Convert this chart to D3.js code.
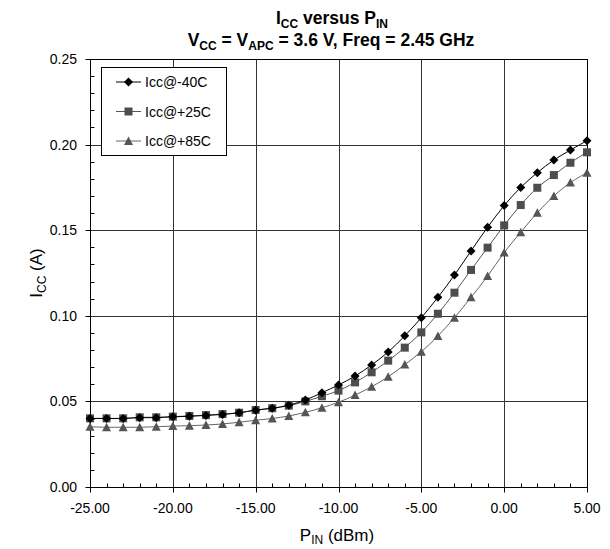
<!DOCTYPE html>
<html>
<head>
<meta charset="utf-8">
<script src="https://cdn.jsdelivr.net/npm/d3@7"></script>
<style>
  body { margin: 0; background: #fff; }
  text { font-family: "Liberation Sans", Arial, sans-serif; }
</style>
</head>
<body>
<div id="chart"></div>
<script>
// input power, dBm
const pin = d3.range(-25, 6, 1);

// supply current (A) per temperature
const icc_m40 = [0.0400, 0.0400, 0.0400, 0.0405, 0.0405, 0.0410, 0.0413, 0.0418, 0.0424, 0.0433,
  0.0449, 0.0460, 0.0478, 0.0508, 0.0551, 0.0596, 0.0648, 0.0713, 0.0789, 0.0883,
  0.0989, 0.1108, 0.1238, 0.1379, 0.1517, 0.1644, 0.1750, 0.1836, 0.1910, 0.1968, 0.2023];
const icc_p25 = [0.0401, 0.0401, 0.0401, 0.0407, 0.0407, 0.0411, 0.0415, 0.0420, 0.0426, 0.0434,
  0.0450, 0.0460, 0.0475, 0.0500, 0.0530, 0.0563, 0.0611, 0.0670, 0.0738, 0.0814,
  0.0903, 0.1012, 0.1135, 0.1268, 0.1398, 0.1528, 0.1647, 0.1748, 0.1822, 0.1894, 0.1955];
const icc_p85 = [0.0352, 0.0349, 0.0349, 0.0349, 0.0352, 0.0356, 0.0358, 0.0362, 0.0368, 0.0378,
  0.0390, 0.0400, 0.0415, 0.0436, 0.0463, 0.0495, 0.0537, 0.0586, 0.0644, 0.0715,
  0.0790, 0.0882, 0.0989, 0.1108, 0.1232, 0.1370, 0.1488, 0.1602, 0.1700, 0.1778, 0.1836];

const seriesNames = ['Icc@-40C', 'Icc@+25C', 'Icc@+85C'];
const xTicks = [-25, -20, -15, -10, -5, 0, 5];
const yTicks = [0, 0.05, 0.10, 0.15, 0.20, 0.25];

const series = [
  { name: seriesNames[0], values: icc_m40, line: '#000', fill: '#000', shape: 'diamond' },
  { name: seriesNames[1], values: icc_p25, line: '#555', fill: '#4d4d4d', shape: 'square' },
  { name: seriesNames[2], values: icc_p85, line: '#666', fill: '#555', shape: 'triangle' }
];

const width = 610, height = 549;
const margin = { left: 90, right: 23, top: 59, bottom: 62 };

const svg = d3.select('#chart').append('svg')
  .attr('width', width)
  .attr('height', height);

const x = d3.scaleLinear().domain([-25, 5]).range([margin.left, width - margin.right]);
const y = d3.scaleLinear().domain([0, 0.25]).range([height - margin.bottom, margin.top]);

const px = v => Math.round(x(v)) + 0.5;
const py = v => Math.round(y(v)) + 0.5;

// gridlines
svg.append('g').selectAll('line.gx')
  .data(xTicks.slice(1, -1)).join('line')
  .attr('x1', px).attr('x2', px)
  .attr('y1', y(0.25)).attr('y2', y(0))
  .attr('stroke', '#333').attr('stroke-width', 1);
svg.append('g').selectAll('line.gy')
  .data(yTicks.slice(1, -1)).join('line')
  .attr('y1', py).attr('y2', py)
  .attr('x1', x(-25)).attr('x2', x(5))
  .attr('stroke', '#333').attr('stroke-width', 1);

// plot frame
svg.append('rect')
  .attr('x', px(-25)).attr('y', py(0.25))
  .attr('width', px(5) - px(-25)).attr('height', py(0) - py(0.25))
  .attr('fill', 'none').attr('stroke', '#000');

// minor ticks (inside)
svg.append('g').selectAll('line')
  .data(d3.range(-25, 5.5, 1).filter(d => d % 5 !== 0)).join('line')
  .attr('x1', px).attr('x2', px)
  .attr('y1', py(0)).attr('y2', py(0) - 4)
  .attr('stroke', '#000');
svg.append('g').selectAll('line')
  .data(d3.range(1, 25).filter(d => d % 5 !== 0).map(d => d / 100)).join('line')
  .attr('y1', py).attr('y2', py)
  .attr('x1', px(-25)).attr('x2', px(-25) + 4)
  .attr('stroke', '#000');

// major ticks (outside) and labels
const xAxis = svg.append('g');
xAxis.selectAll('line').data(xTicks).join('line')
  .attr('x1', px).attr('x2', px)
  .attr('y1', py(0)).attr('y2', py(0) + 5)
  .attr('stroke', '#000');
xAxis.selectAll('text').data(xTicks).join('text')
  .attr('x', d => x(d)).attr('y', py(0) + 25)
  .attr('text-anchor', 'middle')
  .style('font-size', '14px')
  .text(d => d.toFixed(2));

const yAxis = svg.append('g');
yAxis.selectAll('line').data(yTicks).join('line')
  .attr('y1', py).attr('y2', py)
  .attr('x1', px(-25) - 5).attr('x2', px(-25))
  .attr('stroke', '#000');
yAxis.selectAll('text').data(yTicks).join('text')
  .attr('x', 77).attr('y', d => y(d) + 5)
  .attr('text-anchor', 'end')
  .style('font-size', '14px')
  .text(d => d.toFixed(2));

// series
const line = d3.line()
  .x((d, i) => x(pin[i]))
  .y(d => y(d))
  .curve(d3.curveCatmullRom.alpha(0.5));

function marker(g, shape, fill) {
  if (shape === 'diamond') {
    g.append('path').attr('d', 'M0,-4.5L4.5,0L0,4.5L-4.5,0Z').attr('fill', fill);
  } else if (shape === 'square') {
    g.append('rect').attr('x', -4).attr('y', -4).attr('width', 8).attr('height', 8).attr('fill', fill);
  } else {
    g.append('path').attr('d', 'M0,-4.5L4.5,4L-4.5,4Z').attr('fill', fill);
  }
}

// draw back to front so -40C sits on top
series.slice().reverse().forEach(s => {
  svg.append('path')
    .datum(s.values)
    .attr('d', line)
    .attr('fill', 'none')
    .attr('stroke', s.line)
    .attr('stroke-width', 1);
  s.values.forEach((v, i) => {
    const g = svg.append('g').attr('transform', `translate(${x(pin[i])},${y(v)})`);
    marker(g, s.shape, s.fill);
  });
});

// legend
const lg = svg.append('g');
lg.append('rect')
  .attr('x', 101.5).attr('y', 67.5).attr('width', 125).attr('height', 88)
  .attr('fill', '#fff').attr('stroke', '#000');
series.forEach((s, i) => {
  const ly = 82 + i * 29.5;
  lg.append('line')
    .attr('x1', 116).attr('x2', 141).attr('y1', ly).attr('y2', ly)
    .attr('stroke', s.line);
  marker(lg.append('g').attr('transform', `translate(128.5,${ly})`), s.shape, s.fill);
  lg.append('text')
    .attr('x', 145).attr('y', ly + 5)
    .style('font-size', '14px')
    .text(s.name);
});

// title
const t1 = svg.append('text')
  .attr('x', 332).attr('y', 24)
  .attr('text-anchor', 'middle')
  .style('font-size', '17.5px').style('font-weight', 'bold');
t1.append('tspan').text('I');
t1.append('tspan').attr('dy', 4).style('font-size', '12px').text('CC');
t1.append('tspan').attr('dy', -4).text(' versus P');
t1.append('tspan').attr('dy', 4).style('font-size', '12px').text('IN');

const t2 = svg.append('text')
  .attr('x', 331).attr('y', 46)
  .attr('text-anchor', 'middle')
  .style('font-size', '17.5px').style('font-weight', 'bold');
t2.append('tspan').text('V');
t2.append('tspan').attr('dy', 4).style('font-size', '12px').text('CC');
t2.append('tspan').attr('dy', -4).text(' = V');
t2.append('tspan').attr('dy', 4).style('font-size', '12px').text('APC');
t2.append('tspan').attr('dy', -4).text(' = 3.6 V, Freq = 2.45 GHz');

// axis titles
const xl = svg.append('text')
  .attr('x', 337).attr('y', 541)
  .attr('text-anchor', 'middle')
  .style('font-size', '17px');
xl.append('tspan').text('P');
xl.append('tspan').attr('dy', 3).style('font-size', '12px').text('IN');
xl.append('tspan').attr('dy', -3).text(' (dBm)');

const yl = svg.append('text')
  .attr('transform', 'translate(42,273) rotate(-90)')
  .attr('text-anchor', 'middle')
  .style('font-size', '17px');
yl.append('tspan').text('I');
yl.append('tspan').attr('dy', 4).style('font-size', '12px').text('CC');
yl.append('tspan').attr('dy', -4).text(' (A)');
</script>
</body>
</html>
